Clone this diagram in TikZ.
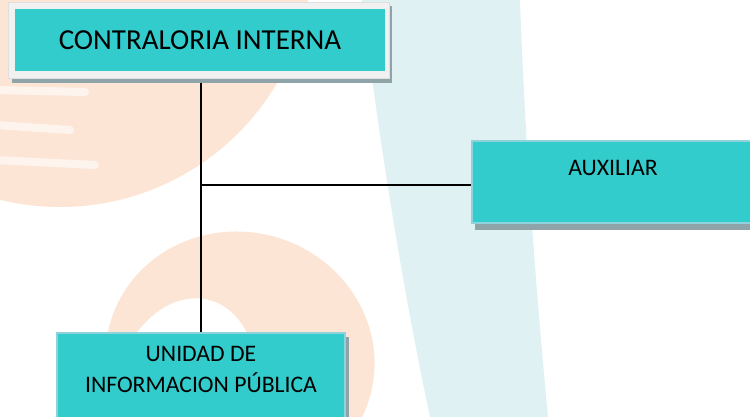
\documentclass[tikz,border=0pt]{standalone}
\usepackage{fontspec}
\setmainfont{Carlito}
\definecolor{teal1}{HTML}{33CCCC}
\definecolor{frameg}{HTML}{F1F1F1}
\definecolor{shadowg}{HTML}{8FA4A9}
\definecolor{edgeb}{HTML}{8ED2DB}
\definecolor{peach}{HTML}{FDE5D6}
\definecolor{paleblue}{HTML}{E0F1F4}
\tikzset{
  box/.style={rectangle, fill=teal1, draw=edgeb, line width=1.2pt, inner sep=0pt},
  shade box/.style={fill=shadowg, draw=none},
  conn/.style={draw=black, line width=1.4pt},
  lbl/.style={font=\fontsize{23.7}{31}\selectfont, text=black, inner sep=0pt, align=center},
  streak/.style={white, line width=8pt, line cap=round, opacity=0.6},
}
\begin{document}
\begin{tikzpicture}[x=1pt,y=-1pt]
\useasboundingbox (0,0) rectangle (750,417);
\begin{scope}
\clip (0,0) rectangle (750,417);
% background watermark
\fill[paleblue] (362,0) .. controls (380,150) and (405,300) .. (430,417) -- (548,417) .. controls (535,280) and (525,140) .. (520,0) -- cycle;
\fill[peach] (60,-45) circle (252);
\draw[streak] (-5,90) -- (85,92);
\draw[streak] (-5,125) -- (70,130);
\draw[streak] (-5,160) -- (95,165);
\fill[peach, even odd rule] [rotate around={-15:(240,360)}] (240,360) ellipse (135 and 128)
  (195,405) ellipse (70 and 95);
\end{scope}
% top box
\fill[shade box] (12,6) rectangle (392,83);
\fill[frameg, draw=gray!25, line width=0.5pt] (8,2) rectangle (389,78);
\node[box, draw=none, minimum width=370pt, minimum height=62pt] (ci) at (200,40) {};
\node[font=\fontsize{29}{34}\selectfont, inner sep=0pt] (citext) at (ci.center) {CONTRALORIA INTERNA};
% auxiliar box
\fill[shade box] (475,223) rectangle (752,230);
\node[box, minimum width=282pt, minimum height=82pt] (aux) at (613,182) {};
\node[lbl] (auxtext) at (613,168) {AUXILIAR};
% unidad box
\fill[shade box] (344,337) rectangle (349,420);
\node[box, minimum width=288pt, minimum height=90pt] (uip) at (201,378) {};
\node[lbl] (uiptext) at (201,369) {UNIDAD DE\\INFORMACION PÚBLICA};
% connectors
\coordinate (top) at (201,83);
\coordinate (j) at (201,185);
\draw[conn] (top) -- (top |- uip.north);
\draw[conn] (j) -- (j -| aux.west);
\end{tikzpicture}
\end{document}
